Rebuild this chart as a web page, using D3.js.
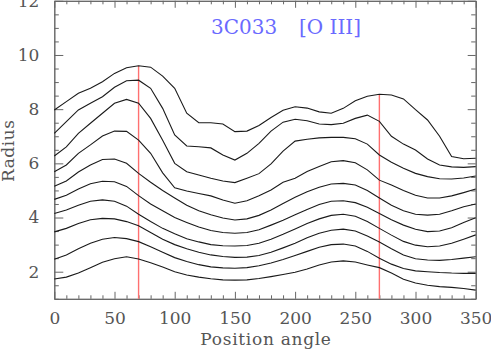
<!DOCTYPE html>
<html>
<head>
<meta charset="utf-8">
<script src="https://cdn.jsdelivr.net/npm/d3@7"></script>
<style>
  body { margin: 0; background: #fff; }
  svg { display: block; }
  text { font-family: "DejaVu Serif", serif; }
</style>
</head>
<body>
<svg width="491" height="351"></svg>
<script>
// position angles (deg) at which the radii were measured
const angles = [0, 10, 20, 30, 40, 50, 60, 70, 80, 90, 100, 110, 120, 130, 140, 150, 160, 170,
  180, 190, 200, 210, 220, 230, 240, 250, 260, 270, 280, 290, 300, 310, 320, 330, 340, 350];

// one radius profile per contour level, outermost first
const r1 = [7.97, 8.28, 8.59, 8.77, 9.01, 9.32, 9.53, 9.60, 9.55, 9.22, 8.77, 7.85, 7.50, 7.50, 7.45, 7.17, 7.19, 7.40,
  7.69, 7.96, 8.09, 8.04, 7.90, 7.85, 8.03, 8.31, 8.48, 8.55, 8.52, 8.38, 7.98, 7.60, 7.00, 6.25, 6.17, 6.19];
const r2 = [7.11, 7.54, 7.97, 8.22, 8.46, 8.81, 9.05, 9.07, 8.77, 8.03, 7.05, 6.64, 6.61, 6.57, 6.31, 6.12, 6.37, 6.74,
  7.19, 7.52, 7.63, 7.57, 7.45, 7.43, 7.48, 7.66, 7.78, 7.55, 7.00, 6.71, 6.49, 6.16, 5.94, 5.87, 5.85, 5.88];
const r3 = [6.27, 6.61, 7.11, 7.48, 7.85, 8.22, 8.36, 8.22, 7.66, 6.85, 6.00, 5.69, 5.57, 5.45, 5.35, 5.29, 5.45, 5.62,
  5.98, 6.45, 6.82, 6.89, 6.94, 6.96, 6.96, 6.91, 6.71, 6.31, 6.04, 5.82, 5.63, 5.51, 5.43, 5.42, 5.46, 5.53];
const r4 = [5.69, 5.94, 6.37, 6.68, 7.01, 7.19, 7.18, 6.86, 6.37, 5.65, 5.10, 4.98, 4.89, 4.80, 4.65, 4.53, 4.62, 4.80,
  5.02, 5.30, 5.45, 5.70, 5.88, 6.06, 6.10, 6.02, 5.76, 5.38, 5.20, 5.00, 4.82, 4.72, 4.72, 4.80, 4.92, 5.05];
const r5 = [5.15, 5.35, 5.68, 5.94, 6.14, 6.16, 6.00, 5.63, 5.30, 5.00, 4.72, 4.45, 4.25, 4.10, 3.98, 3.91, 3.95, 4.08,
  4.28, 4.52, 4.75, 4.95, 5.12, 5.24, 5.26, 5.20, 5.00, 4.72, 4.45, 4.25, 4.12, 4.09, 4.12, 4.25, 4.40, 4.50];
const r6 = [4.67, 4.82, 5.05, 5.25, 5.34, 5.32, 5.15, 4.81, 4.50, 4.25, 4.00, 3.82, 3.65, 3.52, 3.45, 3.42, 3.45, 3.55,
  3.72, 3.90, 4.10, 4.30, 4.48, 4.60, 4.62, 4.55, 4.38, 4.15, 3.92, 3.72, 3.57, 3.48, 3.50, 3.62, 3.82, 3.99];
const r7 = [4.15, 4.28, 4.45, 4.60, 4.65, 4.60, 4.42, 4.12, 3.85, 3.60, 3.40, 3.22, 3.10, 3.00, 2.96, 2.95, 2.97, 3.05,
  3.20, 3.38, 3.58, 3.78, 3.95, 4.08, 4.12, 4.05, 3.85, 3.60, 3.35, 3.12, 2.98, 2.92, 2.95, 3.05, 3.20, 3.36];
const r8 = [3.47, 3.60, 3.78, 3.92, 3.97, 3.95, 3.85, 3.70, 3.45, 3.20, 3.00, 2.85, 2.72, 2.62, 2.56, 2.53, 2.54, 2.60,
  2.72, 2.88, 3.05, 3.25, 3.42, 3.53, 3.57, 3.50, 3.32, 3.10, 2.85, 2.62, 2.48, 2.43, 2.42, 2.45, 2.50, 2.55];
const r9 = [2.46, 2.62, 2.85, 3.05, 3.20, 3.26, 3.22, 3.11, 2.92, 2.72, 2.52, 2.38, 2.26, 2.18, 2.14, 2.13, 2.15, 2.22,
  2.32, 2.45, 2.60, 2.75, 2.90, 3.00, 3.02, 2.95, 2.75, 2.50, 2.28, 2.12, 2.03, 2.00, 1.97, 1.95, 1.94, 1.94];
const r10 = [1.73, 1.80, 1.95, 2.15, 2.35, 2.48, 2.55, 2.47, 2.33, 2.17, 2.00, 1.88, 1.80, 1.74, 1.70, 1.69, 1.70, 1.75,
  1.82, 1.90, 1.98, 2.10, 2.25, 2.36, 2.40, 2.36, 2.25, 2.15, 1.95, 1.72, 1.58, 1.50, 1.45, 1.42, 1.38, 1.32];
const profiles = [r1, r2, r3, r4, r5, r6, r7, r8, r9, r10];

// angles marked with red lines
const markAngles = [70, 270];

const xTicks = [0, 50, 100, 150, 200, 250, 300, 350];
const yTicks = [2, 4, 6, 8, 10, 12];
const xMinor = [10, 20, 30, 40, 60, 70, 80, 90, 110, 120, 130, 140, 160, 170, 180, 190, 210, 220, 230, 240,
  260, 270, 280, 290, 310, 320, 330, 340];
const yMinor = [1, 1.5, 2.5, 3, 3.5, 4.5, 5, 5.5, 6.5, 7, 7.5, 8.5, 9, 9.5, 10.5, 11, 11.5];

const svg = d3.select("svg");
const x = d3.scaleLinear().domain([0, 350]).range([54.3, 475.7]);
const y = d3.scaleLinear().domain([1, 12]).range([298.8, 0.8]);

const axisColor = "#666";

// minor ticks first, then major ticks with labels
function addAxis(gen, tx, ty, cls) {
  const g = svg.append("g").attr("class", cls).attr("transform", `translate(${tx},${ty})`).call(gen);
  g.select(".domain").attr("stroke", axisColor);
  g.selectAll(".tick line").attr("stroke", axisColor);
  g.selectAll(".tick text").attr("fill", "#555").style("font-size", "17px")
    .style("font-family", "'DejaVu Serif', serif");
  return g;
}

const plotBottom = y.range()[0], plotTop = y.range()[1];
const plotLeft = x.range()[0], plotRight = x.range()[1];

addAxis(d3.axisBottom(x).tickValues(xMinor).tickSize(-3.5).tickSizeOuter(0).tickFormat(""), 0, plotBottom, "xminor");
addAxis(d3.axisTop(x).tickValues(xMinor).tickSize(-3.5).tickSizeOuter(0).tickFormat(""), 0, plotTop, "xminor-top");
addAxis(d3.axisLeft(y).tickValues(yMinor).tickSize(-4.5).tickSizeOuter(0).tickFormat(""), plotLeft, 0, "yminor");
addAxis(d3.axisRight(y).tickValues(yMinor).tickSize(-4.5).tickSizeOuter(0).tickFormat(""), plotRight, 0, "yminor-r");

const xb = addAxis(d3.axisBottom(x).tickValues(xTicks).tickSize(-7).tickSizeOuter(0).tickPadding(14), 0, plotBottom, "xaxis");
xb.selectAll(".tick text").attr("dy", null).attr("y", 25);
addAxis(d3.axisTop(x).tickValues(xTicks).tickSize(-7).tickSizeOuter(0).tickFormat(""), 0, plotTop, "xaxis-top");
addAxis(d3.axisLeft(y).tickValues(yTicks).tickSize(-9).tickSizeOuter(0).tickPadding(15), plotLeft, 0, "yaxis");
addAxis(d3.axisRight(y).tickValues(yTicks).tickSize(-8).tickSizeOuter(0).tickFormat(""), plotRight, 0, "yaxis-r");

// red marker lines, from the bottom up to the outermost profile
svg.append("g").selectAll("line")
  .data(markAngles)
  .join("line")
  .attr("x1", d => x(d)).attr("x2", d => x(d))
  .attr("y1", y(1))
  .attr("y2", d => y(r1[angles.indexOf(d)]))
  .attr("stroke", "#ff7070")
  .attr("stroke-width", 1.4);

// profiles
const line = d3.line()
  .x((d, i) => x(angles[i]))
  .y(d => y(d));

svg.append("g").selectAll("path")
  .data(profiles)
  .join("path")
  .attr("d", line)
  .attr("fill", "none")
  .attr("stroke", "#1a1a1a")
  .attr("stroke-width", 1.1);

// labels
svg.append("text")
  .attr("x", (plotLeft + plotRight) / 2 + 1).attr("y", 345)
  .attr("text-anchor", "middle")
  .attr("fill", "#555")
  .style("font-size", "17px")
  .style("letter-spacing", "0.7px")
  .text("Position angle");

svg.append("text")
  .attr("transform", `translate(13.5,${(plotTop + plotBottom) / 2 + 1}) rotate(-90)`)
  .attr("text-anchor", "middle")
  .attr("fill", "#555")
  .style("font-size", "17px")
  .style("letter-spacing", "0.5px")
  .text("Radius");

svg.append("text")
  .attr("x", 211).attr("y", 34)
  .attr("fill", "#6a6aff")
  .style("font-size", "20px")
  .text("3C033");
svg.append("text")
  .attr("x", 299).attr("y", 34)
  .attr("fill", "#6a6aff")
  .style("font-size", "20px")
  .text("[O III]");
</script>
</body>
</html>
